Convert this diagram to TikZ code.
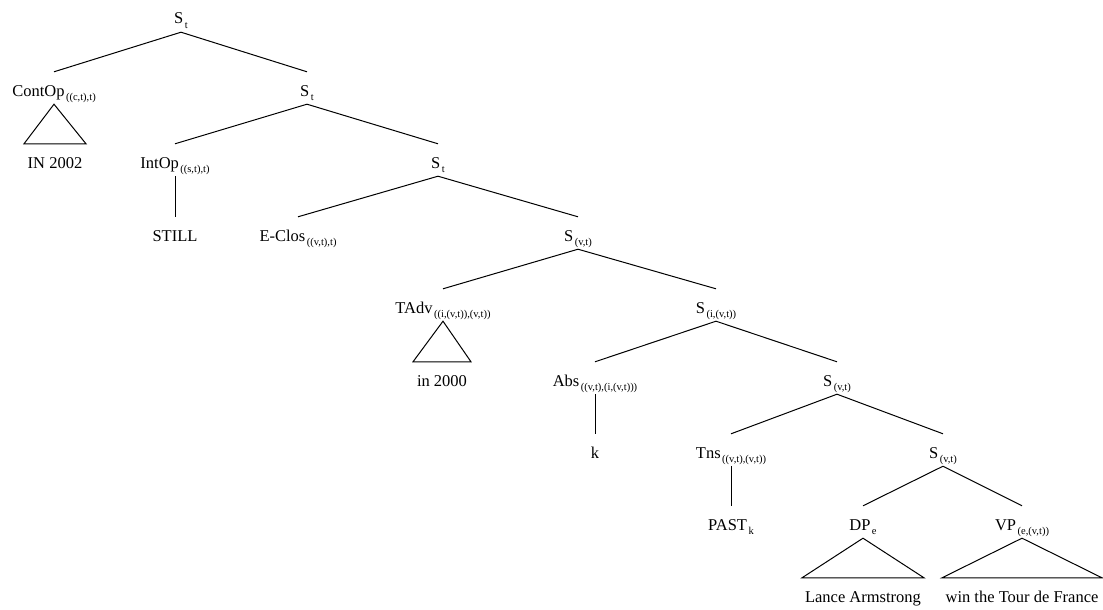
\documentclass[tikz,border=0pt]{standalone}
\usepackage{fontspec}
\setmainfont{Liberation Serif}
\usepackage{tikz}

\newcommand{\tcat}[2]{#1\kern1.5pt\raisebox{-4.5pt}{\fontsize{10.5}{12}\selectfont #2}}

\tikzset{
    lab/.style={anchor=base, inner sep=0pt, text height=24pt, text depth=8pt,
                font=\fontsize{16.5}{19}\selectfont},
    branch/.style={line width=1pt}
}

\begin{document}
\begin{tikzpicture}[x=1pt, y=-1pt]

            \useasboundingbox (0,0) rectangle (1103,610);

            \node (root) [lab] at (181,24) {\tcat{S}{t}};
            \node (contop) [lab] at (54,96) {\tcat{ContOp}{((c,t),t)}};
            \node (in2002) [lab] at (55,168) {IN 2002};
            \node (st2) [lab] at (307,96) {\tcat{S}{t}};
            \node (intop) [lab] at (175,168) {\tcat{IntOp}{((s,t),t)}};
            \node (still) [lab] at (175,241) {STILL};
            \node (st3) [lab] at (438,168) {\tcat{S}{t}};
            \node (eclos) [lab] at (298,241) {\tcat{E-Clos}{((v,t),t)}};
            \node (svt1) [lab] at (578,241) {\tcat{S}{(v,t)}};
            \node (tadv) [lab] at (443,313) {\tcat{TAdv}{((i,(v,t)),(v,t))}};
            \node (in2000) [lab] at (442,386) {in 2000};
            \node (sivt) [lab] at (716,313) {\tcat{S}{(i,(v,t))}};
            \node (abs) [lab] at (595,386) {\tcat{Abs}{((v,t),(i,(v,t)))}};
            \node (k) [lab] at (595,458) {k};
            \node (svt2) [lab] at (837,386) {\tcat{S}{(v,t)}};
            \node (tns) [lab] at (731,458) {\tcat{Tns}{((v,t),(v,t))}};
            \node (past) [lab] at (731,530) {\tcat{PAST}{k}};
            \node (svt3) [lab] at (943,458) {\tcat{S}{(v,t)}};
            \node (dp) [lab] at (863,530) {\tcat{DP}{e}};
            \node (lance) [lab] at (863,602) {Lance Armstrong};
            \node (vp) [lab] at (1022,530) {\tcat{VP}{(e,(v,t))}};
            \node (win) [lab] at (1022,602) {win the Tour de France};

            \draw [branch] (root.south) -- (contop.north);
            \draw [branch] (root.south) -- (st2.north);
            \draw [branch] (st2.south) -- (intop.north);
            \draw [branch] (st2.south) -- (st3.north);
            \draw [branch] (intop.south) -- (still.north);
            \draw [branch] (st3.south) -- (eclos.north);
            \draw [branch] (st3.south) -- (svt1.north);
            \draw [branch] (svt1.south) -- (tadv.north);
            \draw [branch] (svt1.south) -- (sivt.north);
            \draw [branch] (sivt.south) -- (abs.north);
            \draw [branch] (sivt.south) -- (svt2.north);
            \draw [branch] (abs.south) -- (k.north);
            \draw [branch] (svt2.south) -- (tns.north);
            \draw [branch] (svt2.south) -- (svt3.north);
            \draw [branch] (tns.south) -- (past.north);
            \draw [branch] (svt3.south) -- (dp.north);
            \draw [branch] (svt3.south) -- (vp.north);

            \draw [branch] (contop.south) -- ([xshift=-31pt]in2002.north) -- ([xshift=31pt]in2002.north) -- cycle;
            \draw [branch] (tadv.south) -- ([xshift=-29pt]in2000.north) -- ([xshift=29pt]in2000.north) -- cycle;
            \draw [branch] (dp.south) -- ([xshift=-61pt]lance.north) -- ([xshift=61pt]lance.north) -- cycle;
            \draw [branch] (vp.south) -- ([xshift=-80pt]win.north) -- ([xshift=80pt]win.north) -- cycle;

        \end{tikzpicture}
\end{document}
